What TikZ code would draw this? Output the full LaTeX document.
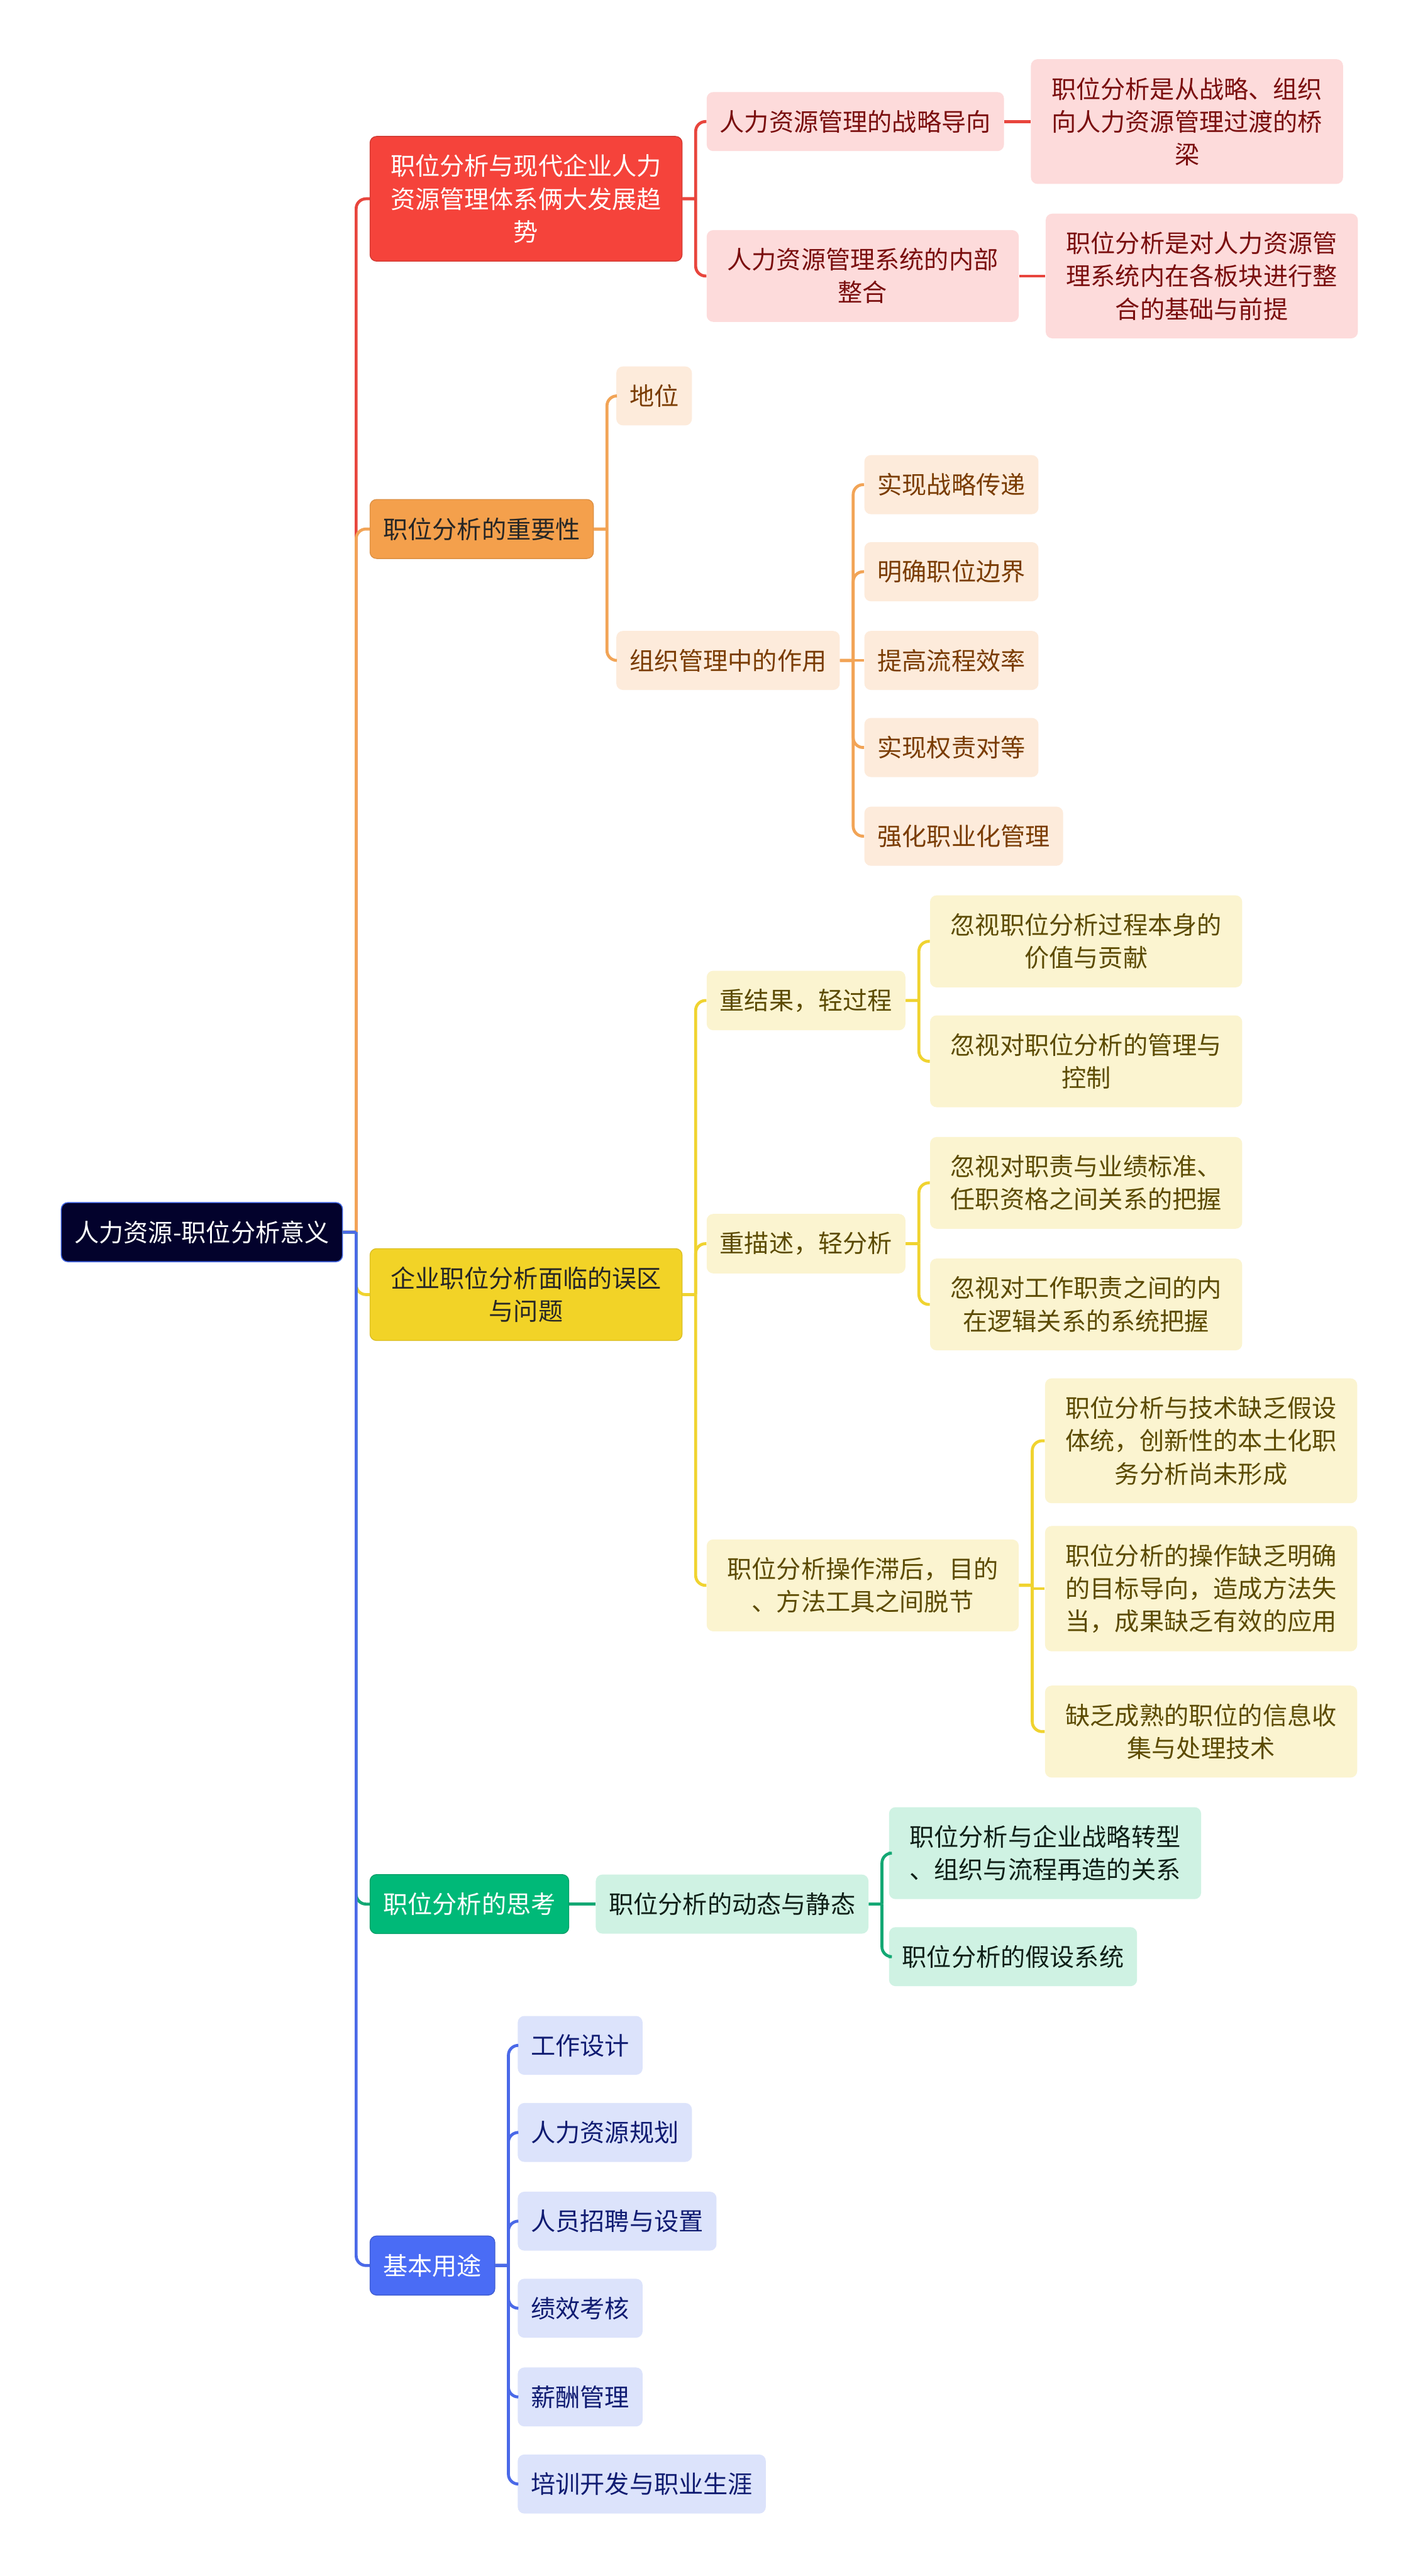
\documentclass[tikz,border=0pt]{standalone}
\usepackage{fontspec}
\setmainfont{Noto Sans CJK SC}
\usepackage{tikz}
\usetikzlibrary{positioning}

\definecolor{RootFill}{HTML}{03022C}
\definecolor{RootEdge}{HTML}{3F63E0}
\definecolor{RedMain}{HTML}{F5433B}
\definecolor{RedLine}{HTML}{E8453D}
\definecolor{RedSoft}{HTML}{FDDBDB}
\definecolor{RedText}{HTML}{7A0E0E}
\definecolor{OrangeMain}{HTML}{F4A04C}
\definecolor{OrangeLine}{HTML}{F2A456}
\definecolor{OrangeSoft}{HTML}{FDEBDB}
\definecolor{OrangeText}{HTML}{7A3C02}
\definecolor{YellowMain}{HTML}{F2D327}
\definecolor{YellowLine}{HTML}{F0D330}
\definecolor{YellowSoft}{HTML}{FBF4D0}
\definecolor{YellowText}{HTML}{5C4B02}
\definecolor{GreenMain}{HTML}{00B978}
\definecolor{GreenLine}{HTML}{14A874}
\definecolor{GreenSoft}{HTML}{CFF2E3}
\definecolor{GreenText}{HTML}{0F1F17}
\definecolor{BlueMain}{HTML}{4A6CF5}
\definecolor{BlueLine}{HTML}{4A69E8}
\definecolor{BlueSoft}{HTML}{DCE3FB}
\definecolor{BlueText}{HTML}{101C72}

\begin{document}
\begin{tikzpicture}[x=1pt, y=-1pt, node distance=16pt,
    box/.style={rectangle, rounded corners=4pt, anchor=west, inner xsep=8pt, inner ysep=11pt, minimum height=35pt, font=\fontsize{15pt}{20pt}\selectfont},
    wrap/.style={text width=174pt, align=center},
    rootbox/.style={box, fill=RootFill, draw=RootEdge, line width=0.6pt, text=white},
    redmain/.style={box, fill=RedMain, draw=RedMain!85!black, line width=0.5pt, text=white},
    redsub/.style={box, fill=RedSoft, text=RedText},
    orangemain/.style={box, fill=OrangeMain, draw=OrangeMain!90!black, line width=0.5pt, text=black!85},
    orangesub/.style={box, fill=OrangeSoft, text=OrangeText},
    yellowmain/.style={box, fill=YellowMain, draw=YellowMain!90!black, line width=0.5pt, text=black!85},
    yellowsub/.style={box, fill=YellowSoft, text=YellowText},
    greenmain/.style={box, fill=GreenMain, draw=GreenMain!85!black, line width=0.5pt, text=white},
    greensub/.style={box, fill=GreenSoft, text=GreenText},
    bluemain/.style={box, fill=BlueMain, draw=BlueMain!85!black, line width=0.5pt, text=white},
    bluesub/.style={box, fill=BlueSoft, text=BlueText},
    link/.style={line width=1.8pt, to path={-- ++(8pt,0) ++(0,0) [rounded corners=6pt] |- (\tikztotarget)}},
    straight/.style={line width=1.8pt}]

    \fill[white] (0,0) rectangle (863,1568);
    \useasboundingbox (0,0) rectangle (863,1568);

    % root and main branches
    \node [rootbox] (root) at (37,750) {人力资源-职位分析意义};
    \node [redmain, wrap] (trend) at (225,121) {职位分析与现代企业人力\\资源管理体系俩大发展趋\\势};
    \node [orangemain] (importance) at (225,322) {职位分析的重要性};
    \node [yellowmain, wrap] (pitfall) at (225,788) {企业职位分析面临的误区\\与问题};
    \node [greenmain] (thinking) at (225,1159) {职位分析的思考};
    \node [bluemain] (uses) at (225,1379) {基本用途};

    % red branch
    \node [redsub] (strategy) at (430,74) {人力资源管理的战略导向};
    \node [redsub, wrap] (integrate) at (430,168) {人力资源管理系统的内部\\整合};
    \node [redsub, wrap, right=of strategy] (bridge) {职位分析是从战略、组织\\向人力资源管理过渡的桥\\梁};
    \node [redsub, wrap, right=of integrate] (basis) {职位分析是对人力资源管\\理系统内在各板块进行整\\合的基础与前提};

    % orange branch
    \node [orangesub] (status) at (375,241) {地位};
    \node [orangesub] (role) at (375,402) {组织管理中的作用};
    \node [orangesub] (relay) at (526,295) {实现战略传递};
    \node [orangesub] (border) at (526,348) {明确职位边界};
    \node [orangesub] (flow) at (526,402) {提高流程效率};
    \node [orangesub] (equal) at (526,455) {实现权责对等};
    \node [orangesub] (profession) at (526,509) {强化职业化管理};

    % yellow branch
    \node [yellowsub] (result) at (430,609) {重结果，轻过程};
    \node [yellowsub] (describe) at (430,757) {重描述，轻分析};
    \node [yellowsub, wrap] (lag) at (430,965) {职位分析操作滞后，目的\\、方法工具之间脱节};
    \node [yellowsub, wrap] (value) at (566,573) {忽视职位分析过程本身的\\价值与贡献};
    \node [yellowsub, wrap] (control) at (566,646) {忽视对职位分析的管理与\\控制};
    \node [yellowsub, wrap] (standard) at (566,720) {忽视对职责与业绩标准、\\任职资格之间关系的把握};
    \node [yellowsub, wrap] (logic) at (566,794) {忽视对工作职责之间的内\\在逻辑关系的系统把握};
    \node [yellowsub, wrap] (premise) at (636,877) {职位分析与技术缺乏假设\\体统，创新性的本土化职\\务分析尚未形成};
    \node [yellowsub, wrap] (target) at (636,967) {职位分析的操作缺乏明确\\的目标导向，造成方法失\\当，成果缺乏有效的应用};
    \node [yellowsub, wrap] (collect) at (636,1054) {缺乏成熟的职位的信息收\\集与处理技术};

    % green branch
    \node [greensub, right=of thinking] (dynamic) {职位分析的动态与静态};
    \node [greensub, wrap] (reshape) at (541,1128) {职位分析与企业战略转型\\、组织与流程再造的关系};
    \node [greensub] (assume) at (541,1191) {职位分析的假设系统};

    % blue branch
    \node [bluesub] (design) at (315,1245) {工作设计};
    \node [bluesub] (plan) at (315,1298) {人力资源规划};
    \node [bluesub] (recruit) at (315,1352) {人员招聘与设置};
    \node [bluesub] (appraise) at (315,1405) {绩效考核};
    \node [bluesub] (salary) at (315,1459) {薪酬管理};
    \node [bluesub] (career) at (315,1512) {培训开发与职业生涯};

    % connectors from root
    \draw [link, RedLine] (root.east) to (trend.west);
    \draw [link, OrangeLine] (root.east) to (importance.west);
    \draw [link, YellowLine] (root.east) to (pitfall.west);
    \draw [link, GreenLine] (root.east) to (thinking.west);
    \draw [link, BlueLine] (root.east) to (uses.west);

    \draw [link, RedLine] (trend.east) to (strategy.west);
    \draw [link, RedLine] (trend.east) to (integrate.west);
    \draw [straight, RedLine] (strategy.east) -- (bridge.west);
    \draw [straight, RedLine] (integrate.east) -- (basis.west);

    \draw [link, OrangeLine] (importance.east) to (status.west);
    \draw [link, OrangeLine] (importance.east) to (role.west);
    \draw [link, OrangeLine] (role.east) to (relay.west);
    \draw [link, OrangeLine] (role.east) to (border.west);
    \draw [straight, OrangeLine] (role.east) -- (flow.west);
    \draw [link, OrangeLine] (role.east) to (equal.west);
    \draw [link, OrangeLine] (role.east) to (profession.west);

    \draw [link, YellowLine] (pitfall.east) to (result.west);
    \draw [link, YellowLine] (pitfall.east) to (describe.west);
    \draw [link, YellowLine] (pitfall.east) to (lag.west);
    \draw [link, YellowLine] (result.east) to (value.west);
    \draw [link, YellowLine] (result.east) to (control.west);
    \draw [link, YellowLine] (describe.east) to (standard.west);
    \draw [link, YellowLine] (describe.east) to (logic.west);
    \draw [link, YellowLine] (lag.east) to (premise.west);
    \draw [straight, YellowLine] (lag.east) -- ++(8pt,0) |- (target.west);
    \draw [link, YellowLine] (lag.east) to (collect.west);

    \draw [straight, GreenLine] (thinking.east) -- (dynamic.west);
    \draw [link, GreenLine] (dynamic.east) to (reshape.west);
    \draw [link, GreenLine] (dynamic.east) to (assume.west);

    \draw [link, BlueLine] (uses.east) to (design.west);
    \draw [link, BlueLine] (uses.east) to (plan.west);
    \draw [link, BlueLine] (uses.east) to (recruit.west);
    \draw [link, BlueLine] (uses.east) to (appraise.west);
    \draw [link, BlueLine] (uses.east) to (salary.west);
    \draw [link, BlueLine] (uses.east) to (career.west);
\end{tikzpicture}
\end{document}
